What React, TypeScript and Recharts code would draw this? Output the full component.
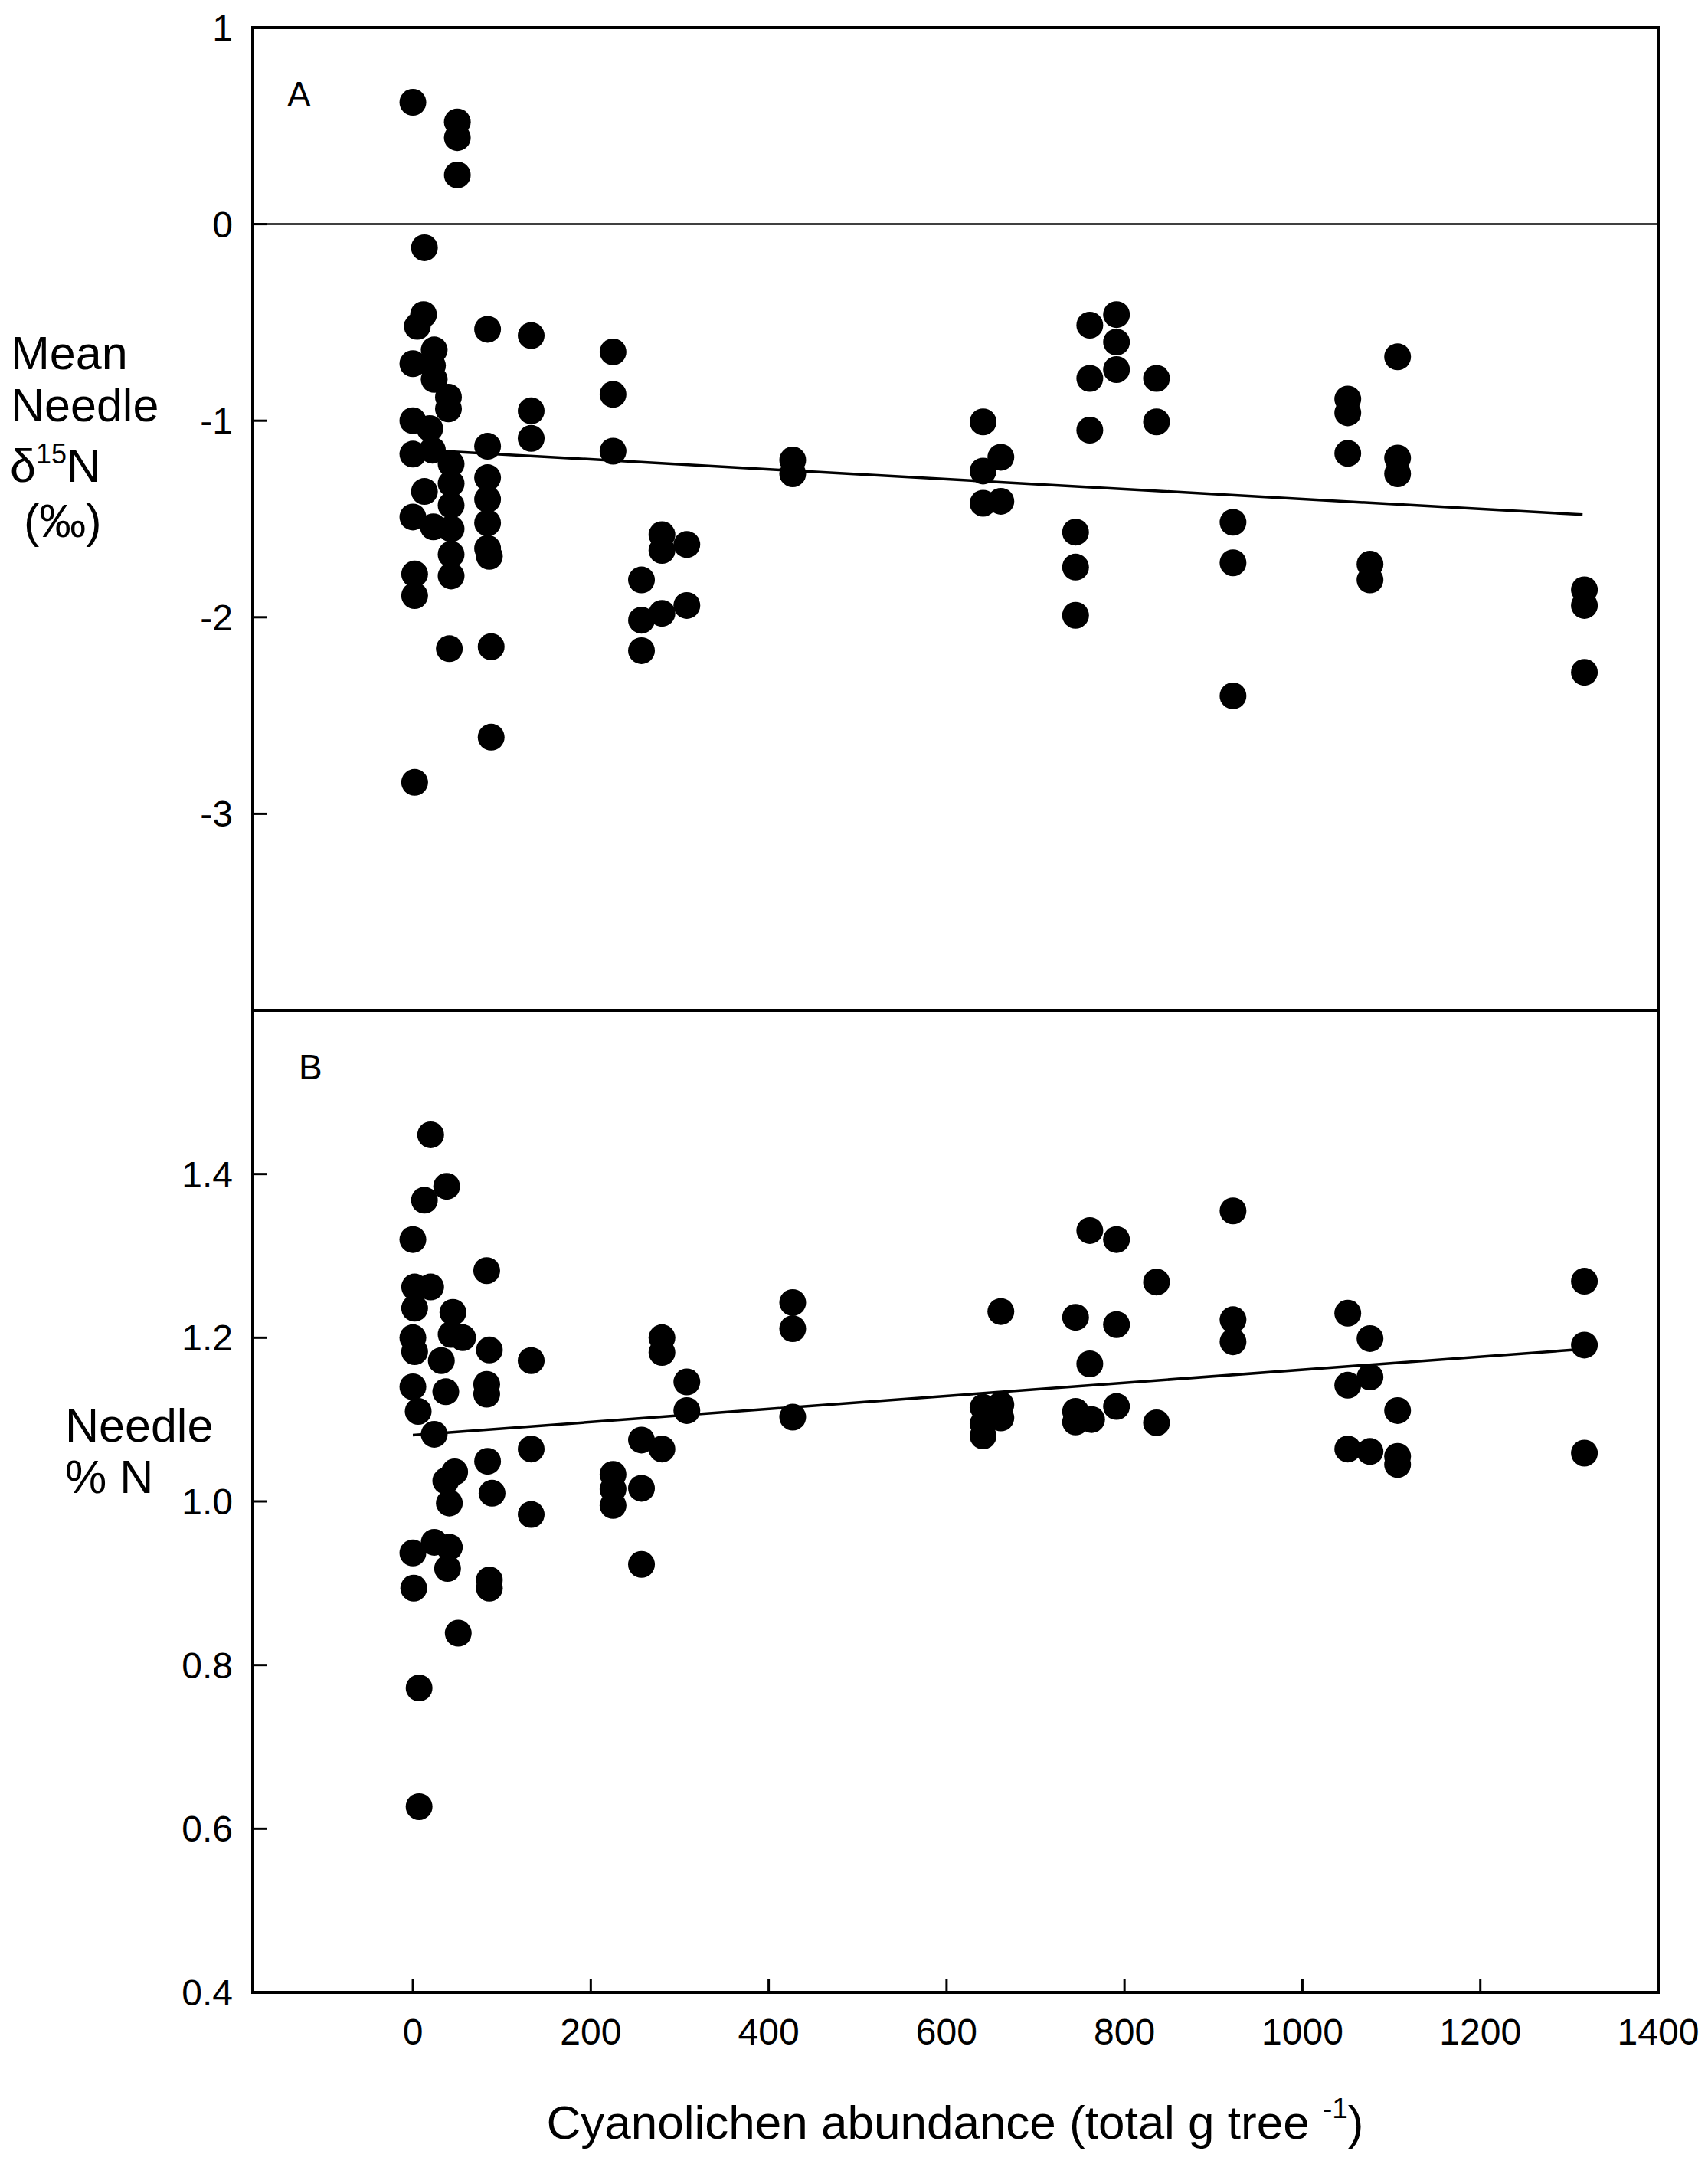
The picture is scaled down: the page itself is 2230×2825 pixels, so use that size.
import { ScatterChart, Scatter, XAxis, YAxis, ReferenceArea, ReferenceLine } from 'recharts';

const FONT = "'Liberation Sans', Arial, sans-serif";

const xTicks = [0, 200, 400, 600, 800, 1000, 1200, 1400];
const deltaTicks = [-3, -2, -1, 0, 1];
const nitrogenTicks = [0.4, 0.6, 0.8, 1.0, 1.2, 1.4];

// panel A: [cyanolichen abundance, mean needle d15N]
const deltaPoints: [number, number][] = [
    [0, 0.62], [50, 0.52], [50, 0.44], [50, 0.25], [13, -0.12],
    [12, -0.46], [5, -0.52], [24, -0.64], [0, -0.71], [22, -0.72], [24, -0.79],
    [40, -0.88], [40, -0.94], [84, -0.535], [133, -0.567], [133, -0.95], [133, -1.09],
    [0, -1.0], [19, -1.04], [0, -1.17], [22, -1.15],
    [43, -1.22], [43, -1.32], [43, -1.43], [43, -1.55], [43, -1.68], [43, -1.79],
    [13, -1.36], [0, -1.49], [23, -1.54], [2, -1.78], [2, -1.89],
    [84, -1.13], [84, -1.29], [84, -1.40], [84, -1.52], [84, -1.65], [86, -1.69],
    [41, -2.16], [88, -2.15], [88, -2.61], [2, -2.84],
    [225, -0.65], [225, -0.866], [225, -1.155],
    [257, -1.81], [257, -2.015], [257, -2.17],
    [280, -1.58], [280, -1.66], [280, -1.98],
    [308, -1.63], [308, -1.94],
    [427, -1.20], [427, -1.27],
    [641, -1.006], [641, -1.256], [641, -1.42], [661, -1.186], [661, -1.41],
    [745, -1.567], [745, -1.745], [745, -1.99],
    [761, -0.514], [761, -0.785], [761, -1.048],
    [791, -0.46], [791, -0.60], [791, -0.74],
    [836, -0.785], [836, -1.006],
    [922, -1.517], [922, -1.723], [922, -2.40],
    [1051, -0.89], [1051, -0.96], [1051, -1.166],
    [1076, -1.73], [1076, -1.81],
    [1107, -0.675], [1107, -1.19], [1107, -1.27],
    [1317, -1.86], [1317, -1.94], [1317, -2.28],
];

// panel B: [cyanolichen abundance, needle %N]
const nitrogenPoints: [number, number][] = [
    [20, 1.448], [38, 1.385], [13, 1.368], [0, 1.320], [83, 1.282],
    [2, 1.262], [20, 1.262], [2, 1.236], [45, 1.231], [43, 1.204], [56, 1.200],
    [86, 1.185], [133, 1.172], [0, 1.200], [2, 1.183], [32, 1.172],
    [0, 1.140], [37, 1.134], [6, 1.110], [24, 1.082], [83, 1.143], [83, 1.131],
    [133, 1.064], [84, 1.049], [47, 1.036], [37, 1.025], [41, 0.998], [89, 1.010],
    [133, 0.984], [0, 0.937], [24, 0.950], [41, 0.944], [39, 0.918], [1, 0.894],
    [86, 0.904], [86, 0.894], [51, 0.839], [7, 0.772], [7, 0.627],
    [225, 1.033], [225, 1.015], [225, 0.995],
    [257, 1.075], [257, 1.016], [257, 0.923],
    [280, 1.200], [280, 1.182], [280, 1.064],
    [308, 1.146], [308, 1.111],
    [427, 1.243], [427, 1.211], [427, 1.103],
    [661, 1.232], [641, 1.115], [661, 1.118], [641, 1.095], [661, 1.102], [641, 1.080],
    [761, 1.331], [791, 1.320], [836, 1.268], [745, 1.225], [791, 1.216], [761, 1.168],
    [791, 1.116], [745, 1.110], [745, 1.097], [763, 1.100], [836, 1.096],
    [922, 1.355], [922, 1.222], [922, 1.195],
    [1051, 1.230], [1051, 1.142], [1051, 1.064],
    [1076, 1.199], [1076, 1.152], [1076, 1.061],
    [1107, 1.111], [1107, 1.055], [1107, 1.045],
    [1317, 1.269], [1317, 1.191], [1317, 1.059],
];

// fitted regression lines (start, end)
const deltaFit: [number, number][] = [[0, -1.146], [1315, -1.478]];
const nitrogenFit: [number, number][] = [[0, 1.081], [1315, 1.186]];

const toObj = (pts: [number, number][]) => pts.map(([x, y]) => ({ x, y }));

const Dot = (props: any) => <circle cx={props.cx} cy={props.cy} r={17.5} fill="#000" />;

const tickStyle = { fill: '#000', fontSize: 48, fontFamily: FONT };
const lineStyle = { stroke: '#000', strokeWidth: 4 };

const label = (top: number, left: number, size: number, children: any) => (
    <div style={{ position: 'absolute', top, left, fontSize: size, lineHeight: 1, fontFamily: FONT, color: '#000', whiteSpace: 'nowrap' }}>
        {children}
    </div>
);

export default function App() {
    return (
        <div style={{ position: 'absolute', left: 0, top: 0, width: 2230, height: 2825, background: '#fff' }}>
            <div style={{ position: 'absolute', left: 0, top: 0 }}>
                <ScatterChart width={2230} height={1322} margin={{ top: 36, right: 65, bottom: 3, left: 0 }}>
                    <XAxis type="number" dataKey="x" domain={[-180, 1400]} ticks={xTicks} allowDataOverflow
                        height={0} tick={false} tickSize={-18} axisLine={lineStyle} tickLine={{ stroke: '#000', strokeWidth: 3 }} />
                    <YAxis type="number" dataKey="y" domain={[-4, 1]} ticks={deltaTicks} allowDataOverflow
                        width={330} tickSize={-18} tickMargin={44} tick={tickStyle}
                        axisLine={lineStyle} tickLine={{ stroke: '#000', strokeWidth: 3 }} />
                    <ReferenceArea x1={-180} x2={1400} y1={-4} y2={1} fill="none" stroke="#000" strokeWidth={4} />
                    <ReferenceLine y={0} stroke="#000" strokeWidth={2.5} />
                    <ReferenceLine segment={toObj(deltaFit)} stroke="#000" strokeWidth={3.5} />
                    <Scatter data={toObj(deltaPoints)} shape={Dot} isAnimationActive={false} />
                </ScatterChart>
            </div>
            <div style={{ position: 'absolute', left: 0, top: 1317 }}>
                <ScatterChart width={2230} height={1508} margin={{ top: 2, right: 65, bottom: 124, left: 0 }}>
                    <XAxis type="number" dataKey="x" domain={[-180, 1400]} ticks={xTicks} allowDataOverflow
                        height={100} tickSize={-18} tickMargin={52} tick={tickStyle}
                        axisLine={lineStyle} tickLine={{ stroke: '#000', strokeWidth: 3 }} />
                    <YAxis type="number" dataKey="y" domain={[0.4, 1.6]} ticks={nitrogenTicks} allowDataOverflow
                        width={330} tickSize={-18} tickMargin={44} tick={tickStyle}
                        tickFormatter={(v: number) => v.toFixed(1)}
                        axisLine={lineStyle} tickLine={{ stroke: '#000', strokeWidth: 3 }} />
                    <ReferenceArea x1={-180} x2={1400} y1={0.4} y2={1.6} fill="none" stroke="#000" strokeWidth={4} />
                    <ReferenceLine segment={toObj(nitrogenFit)} stroke="#000" strokeWidth={3.5} />
                    <Scatter data={toObj(nitrogenPoints)} shape={Dot} isAnimationActive={false} />
                </ScatterChart>
            </div>

            {label(100, 375, 46, 'A')}
            {label(1370, 390, 46, 'B')}

            {label(431, 14, 61, 'Mean')}
            {label(499, 14, 61, 'Needle')}
            {label(578, 13, 61, <>δ<span style={{ fontSize: 36, position: 'relative', top: -24 }}>15</span>N</>)}
            {label(650, 31, 61, '(‰)')}

            {label(1831, 85, 61, 'Needle')}
            {label(1898, 85, 61, '% N')}

            <div style={{ position: 'absolute', top: 2740, left: 1247, transform: 'translateX(-50%)', fontSize: 62, lineHeight: 1, fontFamily: FONT, color: '#000', whiteSpace: 'nowrap' }}>
                Cyanolichen abundance (total g tree <span style={{ fontSize: 37, position: 'relative', top: -27 }}>-1</span>)
            </div>
        </div>
    );
}
